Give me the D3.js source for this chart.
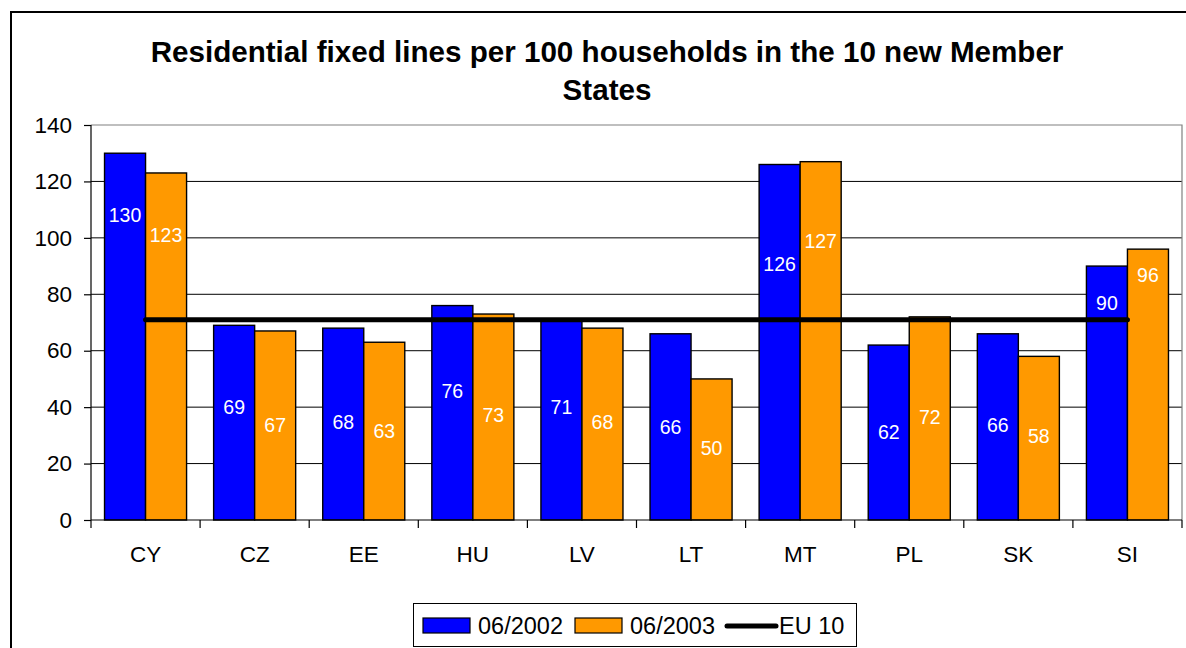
<!DOCTYPE html>
<html>
<head>
<meta charset="utf-8">
<script src="https://cdn.jsdelivr.net/npm/d3@7"></script>
<style>
  html, body { margin: 0; padding: 0; background: #fff; }
  svg { display: block; font-family: "Liberation Sans", Arial, sans-serif; }
</style>
</head>
<body>
<svg id="chart" width="1186" height="648"></svg>
<script>
// Residential fixed lines per 100 households, by country
const countries = ["CY", "CZ", "EE", "HU", "LV", "LT", "MT", "PL", "SK", "SI"];
const values2002 = [130, 69, 68, 76, 71, 66, 126, 62, 66, 90];
const values2003 = [123, 67, 63, 73, 68, 50, 127, 72, 58, 96];
const eu10Average = 71;
// level (in lines per 100 households) at which each value label sits inside its bar
const labelLevel2002 = [108, 40, 34.5, 45.5, 40, 33, 90.5, 31, 33.5, 77];
const labelLevel2003 = [101, 33.5, 31.5, 37, 34.5, 25.3, 99, 36.5, 29.7, 86.7];
const yTicks = [0, 20, 40, 60, 80, 100, 120, 140];
const seriesNames = ["06/2002", "06/2003"];
const lineName = "EU 10";
const titleLines = ["Residential fixed lines per 100 households in the 10 new Member", "States"];

const BLUE = "#0000ff", ORANGE = "#ff9900";
const svg = d3.select("#chart");

const plot = { left: 91, right: 1182, top: 125, bottom: 520 };

// outer chart frame
svg.append("rect")
  .attr("x", 11).attr("y", 12).attr("width", 1200).attr("height", 700)
  .attr("fill", "#fff").attr("stroke", "#000").attr("stroke-width", 2);

// title
const title = svg.append("text")
  .attr("text-anchor", "middle")
  .attr("font-weight", "bold")
  .attr("font-size", 29.6)
  .attr("fill", "#000");
titleLines.forEach((t, i) => {
  title.append("tspan").attr("x", 607).attr("y", 62 + i * 38).text(t);
});

const x = d3.scaleBand()
  .domain(countries)
  .range([plot.left, plot.right])
  .paddingInner(0.248)
  .paddingOuter(0.124);
const step = x.step();
const xSeries = d3.scaleBand().domain([0, 1]).range([0, x.bandwidth()]);
const y = d3.scaleLinear().domain([0, 140]).range([plot.bottom, plot.top]);

// gridlines
svg.append("g")
  .selectAll("line")
  .data(yTicks.filter(t => t > 0 && t < 140))
  .join("line")
  .attr("x1", plot.left).attr("x2", plot.right)
  .attr("y1", d => y(d)).attr("y2", d => y(d))
  .attr("stroke", "#000").attr("stroke-width", 1);

// plot area frame (top and right edges)
svg.append("path")
  .attr("d", `M${plot.left},${y(140)}H${plot.right}V${plot.bottom}`)
  .attr("fill", "none").attr("stroke", "#808080").attr("stroke-width", 1.2);

// bars
const rows = countries.map((c, i) => ({
  c,
  vals: [values2002[i], values2003[i]],
  lbl: [labelLevel2002[i], labelLevel2003[i]]
}));
const groups = svg.append("g").selectAll("g")
  .data(rows).join("g")
  .attr("transform", d => `translate(${x(d.c)},0)`);

groups.selectAll("rect")
  .data(d => d.vals.map((v, k) => ({ v, k })))
  .join("rect")
  .attr("x", d => xSeries(d.k))
  .attr("width", xSeries.bandwidth())
  .attr("y", d => y(d.v))
  .attr("height", d => y(0) - y(d.v))
  .attr("fill", d => d.k === 0 ? BLUE : ORANGE)
  .attr("stroke", "#000").attr("stroke-width", 1.4);

groups.selectAll("text")
  .data(d => d.vals.map((v, k) => ({ v, k, at: d.lbl[k] })))
  .join("text")
  .attr("x", d => xSeries(d.k) + xSeries.bandwidth() / 2)
  .attr("y", d => y(d.at))
  .attr("dy", "0.35em")
  .attr("text-anchor", "middle")
  .attr("font-size", 19.5)
  .attr("fill", "#fff")
  .text(d => d.v);

// EU 10 average line
const lineGen = d3.line()
  .x(d => x(d) + x.bandwidth() / 2)
  .y(() => y(eu10Average));
svg.append("path")
  .attr("d", lineGen(countries))
  .attr("fill", "none").attr("stroke", "#000")
  .attr("stroke-width", 5).attr("stroke-linecap", "round");

// y axis
const yAxis = svg.append("g").attr("transform", `translate(${plot.left},0)`)
  .call(d3.axisLeft(y).tickValues(yTicks).tickSize(7).tickPadding(12));
yAxis.select(".domain").attr("stroke", "#000").attr("stroke-width", 1.2)
  .attr("d", `M0,${y(140)}V${y(0)}`);
yAxis.selectAll(".tick line").attr("stroke", "#000").attr("stroke-width", 1.2);
yAxis.selectAll(".tick text")
  .attr("font-size", 22.5).attr("fill", "#000")
  .attr("font-family", "'Liberation Sans', Arial, sans-serif");

// x axis line with ticks at category boundaries
const xg = svg.append("g");
xg.append("line")
  .attr("x1", plot.left).attr("x2", plot.right)
  .attr("y1", plot.bottom).attr("y2", plot.bottom)
  .attr("stroke", "#000").attr("stroke-width", 1.2);
xg.selectAll("line.tk")
  .data(d3.range(countries.length + 1))
  .join("line").attr("class", "tk")
  .attr("x1", i => plot.left + i * step).attr("x2", i => plot.left + i * step)
  .attr("y1", plot.bottom).attr("y2", plot.bottom + 8)
  .attr("stroke", "#000").attr("stroke-width", 1.2);
xg.selectAll("text")
  .data(countries)
  .join("text")
  .attr("x", d => x(d) + x.bandwidth() / 2)
  .attr("y", 562)
  .attr("text-anchor", "middle")
  .attr("font-size", 22.5)
  .attr("fill", "#000")
  .text(d => d);

// legend
const lg = svg.append("g");
lg.append("rect")
  .attr("x", 413.5).attr("y", 603.5).attr("width", 443).attr("height", 43)
  .attr("fill", "#fff").attr("stroke", "#000").attr("stroke-width", 1);
const swatches = [
  { name: seriesNames[0], color: BLUE, x: 423 },
  { name: seriesNames[1], color: ORANGE, x: 575 }
];
swatches.forEach(s => {
  lg.append("rect")
    .attr("x", s.x).attr("y", 618).attr("width", 47).attr("height", 15)
    .attr("fill", s.color).attr("stroke", "#000").attr("stroke-width", 1.2);
  lg.append("text")
    .attr("x", s.x + 55).attr("y", 634)
    .attr("font-size", 23.5).attr("fill", "#000")
    .text(s.name);
});
lg.append("line")
  .attr("x1", 727).attr("x2", 776).attr("y1", 626).attr("y2", 626)
  .attr("stroke", "#000").attr("stroke-width", 5).attr("stroke-linecap", "round");
lg.append("text")
  .attr("x", 779).attr("y", 634)
  .attr("font-size", 23.5).attr("fill", "#000")
  .text(lineName);
</script>
</body>
</html>
